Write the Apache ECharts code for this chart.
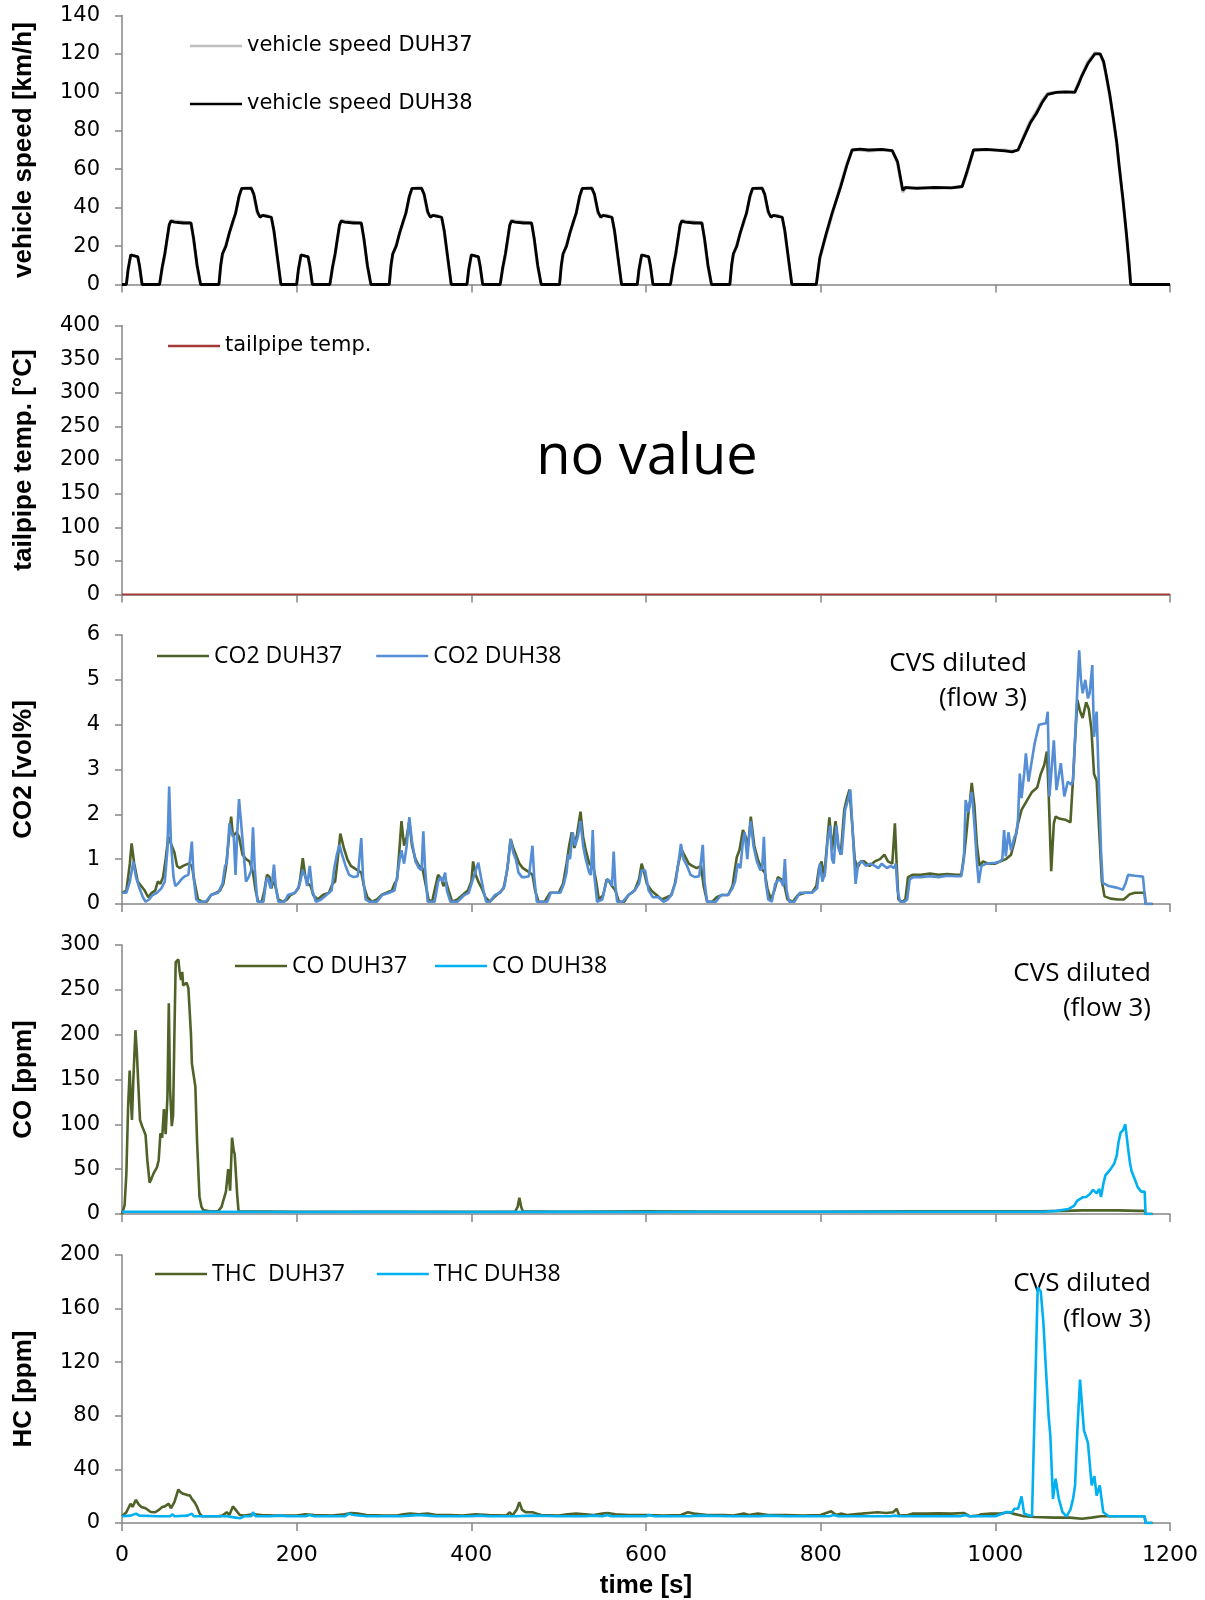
<!DOCTYPE html>
<html>
<head>
<meta charset="utf-8">
<script src="https://cdn.jsdelivr.net/npm/echarts@6.0.0/dist/echarts.min.js"></script>
<style>
    html, body { margin: 0; padding: 0; background: #fff; }
    #chart { width: 1205px; height: 1600px; }
</style>
</head>
<body>
<div id="chart"></div>
<script>
// time axis ticks (s)
var timeTicks = [0, 200, 400, 600, 800, 1000, 1200];

// vehicle speed [km/h], [time, value]
var speedDUH37 = [
    [0,0],[5,0],[7,7],[10,15],[12,15.5],[15,15],[18,14],[20,9],[23,0],[43,0],[46,8],[49,15],[51,21],[54,30],[56,33.5],[60,33],[70,32.5],[79,32],[82,23],[86,9],[90,0],
    [111,0],[113,9],[115,15],[119,21],[123,27],[127,32],[130,37],[134,45],[137,50],[148,50.5],[151,46],[155,37],[158,35.5],[161,36],[163,37],[166,36],[171,35],[174,27],[178,13],[182,0],
    [200,0],[202,7],[205,15],[207,15.5],[210,15],[213,14],[215,9],[218,0],[238,0],[241,8],[244,15],[246,21],[249,30],[251,33.5],[255,33],[265,32.5],[274,32],[277,23],[281,9],[285,0],
    [306,0],[308,9],[310,15],[314,21],[318,27],[322,32],[325,37],[329,45],[332,50],[343,50.5],[346,46],[350,37],[353,35.5],[356,36],[358,37],[361,36],[366,35],[369,27],[373,13],[377,0],
    [395,0],[397,7],[400,15],[402,15.5],[405,15],[408,14],[410,9],[413,0],[433,0],[436,8],[439,15],[441,21],[444,30],[446,33.5],[450,33],[460,32.5],[469,32],[472,23],[476,9],[480,0],
    [501,0],[503,9],[505,15],[509,21],[513,27],[517,32],[520,37],[524,45],[527,50],[538,50.5],[541,46],[545,37],[548,35.5],[551,36],[553,37],[556,36],[561,35],[564,27],[568,13],[572,0],
    [590,0],[592,7],[595,15],[597,15.5],[600,15],[603,14],[605,9],[608,0],[628,0],[631,8],[634,15],[636,21],[639,30],[641,33.5],[645,33],[655,32.5],[664,32],[667,23],[671,9],[675,0],
    [696,0],[698,9],[700,15],[704,21],[708,27],[712,32],[715,37],[719,45],[722,50],[733,50.5],[736,46],[740,37],[743,35.5],[746,36],[748,37],[751,36],[756,35],[759,27],[763,13],[767,0],
    [795,0],[799,13],[806,25],[813,36],[818,44],[823,52],[830,63],[836,70],[845,70],[855,69.5],[870,70],[882,69.5],[888,63],[894,48],[897,50],[910,50.5],[930,50],[950,50.5],[962,51],[967,57],[975,70],
    [990,70],[1011,70],[1019,69.5],[1026,70],[1033,78],[1040,85],[1047,90],[1054,96],[1060,99.5],[1070,100],[1080,100],[1091,100.5],[1095,105],[1099,109],[1106,116],[1114,120.5],[1120,120],
    [1124,115],[1127,108],[1131,98],[1135,86],[1139,73],[1142,60],[1146,44],[1150,26],[1153,11],[1155,0],[1200,0]
];
var speedDUH38 = [
    [0,0],[5,0],[7,8],[10,15.5],[12,16],[15,14.8],[18,14.5],[20,10],[23,0],[43,0],[46,9],[49,16],[51,22],[54,31],[56,33],[60,32.5],[70,32],[79,32],[82,24],[86,10],[90,0],
    [111,0],[113,10],[115,16],[119,20],[123,27],[127,33],[130,37],[134,46],[137,50],[148,50],[151,47],[155,38],[158,35],[161,36],[163,36.5],[166,35.5],[171,35],[174,28],[178,14],[182,0],
    [200,0],[202,8],[205,15.5],[207,16],[210,14.8],[213,14.5],[215,10],[218,0],[238,0],[241,9],[244,16],[246,22],[249,31],[251,33],[255,32.5],[265,32],[274,32],[277,24],[281,10],[285,0],
    [306,0],[308,10],[310,16],[314,20],[318,27],[322,33],[325,37],[329,46],[332,50],[343,50],[346,47],[350,38],[353,35],[356,36],[358,36.5],[361,35.5],[366,35],[369,28],[373,14],[377,0],
    [395,0],[397,8],[400,15.5],[402,16],[405,14.8],[408,14.5],[410,10],[413,0],[433,0],[436,9],[439,16],[441,22],[444,31],[446,33],[450,32.5],[460,32],[469,32],[472,24],[476,10],[480,0],
    [501,0],[503,10],[505,16],[509,20],[513,27],[517,33],[520,37],[524,46],[527,50],[538,50],[541,47],[545,38],[548,35],[551,36],[553,36.5],[556,35.5],[561,35],[564,28],[568,14],[572,0],
    [590,0],[592,8],[595,15.5],[597,16],[600,14.8],[603,14.5],[605,10],[608,0],[628,0],[631,9],[634,16],[636,22],[639,31],[641,33],[645,32.5],[655,32],[664,32],[667,24],[671,10],[675,0],
    [696,0],[698,10],[700,16],[704,20],[708,27],[712,33],[715,37],[719,46],[722,50],[733,50],[736,47],[740,38],[743,35],[746,36],[748,36.5],[751,35.5],[756,35],[759,28],[763,14],[767,0],
    [795,0],[799,14],[806,26],[813,37],[818,44],[823,51],[830,62],[836,70],[845,70.5],[855,70],[870,70.3],[882,69.7],[888,64],[894,49],[897,50.5],[910,50],[930,50.5],[950,50.3],[962,51],[967,58],[975,70],
    [990,70.3],[1011,69.5],[1019,69],[1026,70],[1033,77],[1040,84],[1047,89],[1054,95],[1060,99],[1070,100],[1080,100.3],[1091,100],[1095,104],[1099,108.5],[1106,115],[1114,120],[1120,120],
    [1124,116],[1127,109],[1131,99],[1135,87],[1139,74],[1142,61],[1146,45],[1150,27],[1153,12],[1155,0],[1200,0]
];

// tailpipe temperature [°C] (no value recorded)
var tailpipeTemp = [[0,0],[1200,0]];

// CO2 [vol%]
var co2DUH37 = [
    [0,0.25],[5,0.3],[9,0.9],[11,1.35],[14,0.9],[18,0.5],[22,0.4],[26,0.3],[30,0.15],[34,0.25],[38,0.3],[41,0.5],[44,0.45],[47,0.6],[50,1.0],[53,1.5],[57,1.3],[60,1.15],[63,0.85],[66,0.8],[70,0.85],[76,0.9],[80,0.85],[83,0.5],[87,0.1],[92,0.05],[97,0.05],
    [102,0.2],[108,0.25],[112,0.3],[116,0.45],[119,0.8],[122,1.4],[125,1.95],[127,1.5],[129,1.55],[131,1.6],[134,1.5],[138,1.1],[142,1.0],[146,0.95],[150,0.7],[153,0.3],[156,0.05],[160,0.05],[163,0.3],[166,0.65],[169,0.6],[171,0.35],[173,0.5],[175,0.45],[179,0.1],[184,0.05],[189,0.1],[193,0.2],[198,0.25],
    [202,0.35],[204,0.55],[207,1.02],[210,0.6],[213,0.45],[216,0.4],[219,0.2],[224,0.1],[230,0.2],[237,0.25],[241,0.45],[244,0.5],[247,1.0],[250,1.57],[254,1.25],[258,1.0],[262,0.85],[266,0.8],[270,0.75],[274,0.7],[277,0.4],[281,0.15],[286,0.05],[292,0.1],[297,0.2],
    [303,0.25],[309,0.3],[312,0.45],[315,0.55],[318,1.3],[320,1.85],[323,1.3],[326,1.5],[329,1.85],[332,1.3],[336,1.0],[340,0.85],[344,0.8],[347,0.5],[351,0.1],[355,0.05],[359,0.4],[362,0.65],[366,0.55],[368,0.4],[371,0.5],[374,0.3],[378,0.05],[384,0.1],[390,0.2],[396,0.3],
    [400,0.5],[402,0.95],[405,0.65],[408,0.5],[412,0.35],[416,0.15],[421,0.05],[426,0.15],[432,0.25],[437,0.35],[441,0.75],[445,1.45],[448,1.25],[451,1.1],[455,0.9],[459,0.8],[463,0.75],[467,0.7],[470,0.65],[473,0.3],[477,0.05],[484,0.05],[490,0.25],
    [500,0.25],[505,0.45],[509,0.9],[512,1.3],[515,1.6],[518,1.25],[521,1.55],[525,2.06],[528,1.5],[531,1.2],[535,0.9],[540,0.8],[543,0.5],[546,0.1],[551,0.2],[555,0.55],[558,0.5],[561,0.4],[565,0.3],[569,0.05],[575,0.05],[580,0.2],[587,0.3],[592,0.55],[595,0.9],[598,0.7],
    [601,0.45],[606,0.3],[612,0.2],[618,0.1],[624,0.15],[629,0.2],[633,0.45],[637,0.9],[641,1.2],[645,1.05],[649,0.9],[653,0.85],[658,0.8],[663,0.85],[666,0.4],[670,0.05],[676,0.05],[681,0.15],[687,0.2],[694,0.2],[699,0.4],
    [702,0.8],[704,1.05],[707,1.2],[711,1.65],[714,1.5],[717,1.3],[720,1.95],[724,1.3],[728,1.0],[732,0.8],[736,0.7],[739,0.35],[743,0.1],[747,0.3],[751,0.6],[755,0.55],[758,0.45],[762,0.1],[768,0.05],[774,0.2],[782,0.25],[790,0.25],[795,0.4],[798,0.8],
    [801,0.95],[804,0.6],[808,1.5],[810,1.93],[813,1.2],[817,1.85],[820,1.3],[823,1.1],[827,2.1],[830,2.35],[833,2.55],[836,1.8],[839,1.0],[842,0.8],[846,0.95],[850,0.95],[856,0.85],[862,0.95],[868,1.0],[873,1.1],[877,0.95],[882,0.9],[885,1.8],[887,0.9],[889,0.1],[893,0.05],[897,0.1],
    [900,0.6],[905,0.65],[915,0.65],[925,0.68],[935,0.65],[945,0.67],[955,0.65],[961,0.65],[965,1.2],[969,2.0],[971,2.3],[973,2.7],[976,2.2],[979,1.3],[982,0.85],[986,0.95],[992,0.9],
    [1000,0.9],[1006,0.95],[1012,1.0],[1018,1.1],[1022,1.4],[1026,1.8],[1030,2.1],[1036,2.3],[1042,2.5],[1048,2.6],[1052,2.9],[1056,3.1],[1059,3.4],[1061,2.5],[1064,0.73],[1067,1.8],[1069,1.95],[1074,1.9],[1080,1.88],[1086,1.82],[1089,2.8],[1092,3.9],[1094,4.55],[1097,4.3],
    [1100,4.15],[1104,4.5],[1107,4.35],[1110,3.9],[1113,2.9],[1116,2.75],[1119,1.6],[1122,0.5],[1125,0.17],[1132,0.12],[1140,0.1],[1147,0.1],[1150,0.15],[1154,0.22],[1160,0.25],[1168,0.25],[1171,0.25],[1172,0],[1180,0]
];
var co2DUH38 = [
    [0,0.25],[5,0.25],[9,0.5],[13,0.95],[16,0.6],[20,0.35],[24,0.15],[27,0.05],[31,0.1],[35,0.2],[40,0.25],[45,0.35],[49,0.5],[52,1.2],[54,2.62],[56,1.4],[59,0.6],[61,0.4],[64,0.45],[68,0.55],[72,0.62],[76,0.65],[78,0.65],[80,1.39],[82,0.6],[85,0.1],[88,0.05],[96,0.05],
    [102,0.2],[110,0.25],[115,0.45],[118,0.85],[120,0.91],[123,1.8],[125,1.6],[128,1.5],[130,0.65],[132,1.6],[134,2.34],[136,1.9],[139,1.2],[142,0.5],[145,0.6],[148,0.75],[150,1.71],[152,0.8],[155,0.05],[162,0.05],[165,0.5],[167,0.6],[170,0.35],[172,0.5],[174,0.88],[176,0.4],[179,0.05],[186,0.05],[190,0.2],[198,0.25],
    [203,0.4],[207,0.76],[210,0.6],[212,0.4],[215,0.85],[218,0.3],[222,0.05],[228,0.1],[234,0.2],[240,0.3],[243,0.8],[246,1.1],[249,1.32],[252,1.1],[256,0.85],[260,0.65],[265,0.6],[270,0.62],[272,0.65],[274,1.47],[276,0.6],[279,0.1],[283,0.05],[292,0.05],[298,0.2],
    [306,0.25],[312,0.3],[315,0.6],[318,1.0],[320,1.2],[323,0.9],[326,1.3],[329,1.94],[332,1.4],[336,0.95],[340,0.8],[343,0.75],[345,1.62],[347,0.8],[350,0.05],[358,0.05],[362,0.5],[365,0.6],[367,0.5],[370,0.7],[372,0.3],[376,0.05],[384,0.05],[392,0.2],[397,0.25],
    [401,0.5],[405,0.75],[408,0.92],[411,0.6],[414,0.3],[417,0.05],[421,0.05],[427,0.2],[433,0.25],[438,0.4],[442,0.9],[445,1.45],[448,1.15],[451,1.0],[454,0.7],[458,0.6],[462,0.6],[466,0.62],[468,0.65],[470,1.3],[472,0.6],[475,0.05],[487,0.05],[491,0.25],
    [502,0.25],[506,0.45],[509,0.7],[511,1.1],[513,1.0],[516,1.6],[519,1.3],[522,1.5],[525,1.85],[528,1.3],[531,1.0],[535,0.7],[537,0.65],[539,1.65],[541,0.6],[544,0.05],[550,0.1],[554,0.45],[556,0.55],[559,0.5],[561,0.4],[563,1.17],[565,0.4],[567,0.05],[573,0.05],[580,0.2],[587,0.3],[592,0.45],[595,0.75],[599,0.75],
    [603,0.3],[608,0.15],[614,0.15],[620,0.05],[625,0.1],[629,0.2],[634,0.5],[637,0.9],[640,1.34],[643,1.0],[647,0.85],[651,0.65],[656,0.6],[661,0.62],[663,0.65],[665,1.32],[667,0.5],[670,0.05],[680,0.05],[686,0.2],[694,0.2],[699,0.35],
    [702,0.5],[705,0.9],[708,0.8],[711,1.4],[713,1.6],[716,1.0],[718,1.5],[720,1.85],[723,1.3],[727,0.95],[731,0.75],[733,0.8],[735,1.5],[737,0.5],[740,0.1],[744,0.05],[748,0.45],[752,0.55],[755,0.5],[757,0.4],[759,1.0],[761,0.3],[764,0.05],[770,0.05],[776,0.25],[790,0.25],[796,0.35],[799,0.9],
    [802,0.5],[805,0.7],[808,1.43],[811,1.75],[813,1.0],[815,0.9],[818,1.75],[821,1.2],[824,1.1],[828,2.1],[831,2.3],[834,2.55],[837,1.5],[840,0.45],[843,0.9],[847,0.95],[852,0.85],[857,0.9],[862,0.85],[866,0.8],[870,0.9],[873,0.85],[876,0.8],[880,0.85],[884,0.8],[886,0.9],[888,0.3],[891,0.05],[896,0.05],[899,0.1],
    [902,0.55],[906,0.6],[915,0.6],[925,0.62],[935,0.6],[945,0.63],[955,0.62],[961,0.62],[964,1.0],[966,2.32],[969,2.05],[973,2.5],[976,1.8],[979,0.9],[981,0.47],[984,0.85],[990,0.9],
    [1000,0.92],[1005,0.95],[1008,1.0],[1010,1.65],[1012,1.06],[1015,1.6],[1018,1.2],[1022,1.5],[1024,1.55],[1026,1.9],[1028,2.91],[1030,2.36],[1033,2.9],[1035,3.36],[1038,2.73],[1041,3.1],[1045,3.58],[1050,4.0],[1055,4.02],[1058,4.03],[1060,4.29],[1062,2.4],[1067,3.65],[1070,2.54],[1075,3.14],[1079,2.4],[1083,2.73],[1087,2.66],[1089,2.77],[1092,4.0],[1096,5.66],[1098,5.0],
    [1100,4.7],[1103,5.0],[1106,4.59],[1108,4.7],[1111,5.33],[1113,3.73],[1116,4.29],[1119,2.4],[1121,1.2],[1123,0.47],[1130,0.4],[1140,0.36],[1146,0.32],[1149,0.45],[1152,0.65],[1160,0.63],[1169,0.61],[1171,0.6],[1172,0],[1180,0]
];

// CO [ppm]
var coDUH37 = [
    [0,0],[3,10],[5,45],[7,120],[8.8,160],[10,130],[11.4,105],[13,150],[15.4,205],[17,180],[18.4,150],[20.6,105],[23,98],[25,96],[27,88],[29,60],[31.6,35],[34,40],[36,45],[40,52],[42,60],[44,90],[46,85],[48,117],[50,89],
    [52,130],[53.6,235],[55,140],[57,98],[58.5,110],[60,200],[61.5,281],[63,280],[64.5,284],[66,270],[67.6,261],[69,270],[70,255],[72,253],[74,258],[76,252],[77.7,250],[79,200],[80,168],[82,155],[84,142],[86,80],[88.7,19],[91,8],[93,4.5],
    [100,3],[110,3],[114,8],[116,15],[119,25],[121.6,50],[123,35],[123.8,26],[126,85],[128,70],[129,67],[130.4,65],[132,20],[133.5,3],
    [200,2.5],[300,2.5],[400,2.5],[450,2.5],[453,8],[455,18],[457,8],[459,3],[500,2.5],[600,3],[700,2.5],[800,2.5],[900,3],[1000,3],[1050,3],[1080,3.5],[1100,4],[1140,4],[1165,3.5],[1171,3.5],[1172,0],[1180,0]
];
var coDUH38 = [
    [0,2.5],[100,2.5],[200,2.3],[300,2.5],[400,2.3],[500,2.5],[600,2.3],[700,2.5],[800,2.5],[900,2.5],[1000,2.5],[1055,2.5],[1070,3.5],[1084,5.6],[1090,9],[1094,15],[1096,17],[1100,18.6],[1104,19],[1108,22],[1112,27],[1116,23],[1119,28],[1121,19],
    [1124,35],[1126,43],[1132,50],[1136,56],[1139,65],[1141,80],[1143.5,91],[1146,93],[1148.8,100],[1150,98],[1152.3,71],[1154,58],[1156,48],[1160,38],[1163,30],[1167,25],[1171,25],[1172,0],[1180,0]
];

// THC [ppm]
var thcDUH37 = [
    [0,5],[5,8],[9.7,14.4],[12,12],[16,17.3],[19,14],[22,12],[27,11],[33,8.2],[38,8],[42.6,10],[46,12],[49,12.4],[51,11],[53.6,14.4],[56,11],[60,15.6],[64.5,25],[67,23],[70,21.8],[74,21],[77.7,20.5],[80,18],[83,15.6],[86,12],[89,7],[92,5],
    [100,5],[110,5],[115,5.5],[120,8],[123,6],[127,12.4],[130,10],[134.8,6],[140,5.5],[150,6.5],[160,6],[175,5.5],[190,5.5],[200,5.5],[210,6.5],[220,6],[240,5.5],[255,6.5],[262,7.5],[270,7],[280,6],
    [300,5.5],[315,5.5],[322,6.5],[330,7],[340,6.5],[350,7],[360,6],[375,6],[390,5.5],[405,6.5],[420,6],[440,5.5],[444,8],[447,5.5],[452,10],[455,15.6],[458,10],[462,8],[470,8],[475,7],[480,6],
    [500,5.5],[510,6.5],[520,7],[530,6.5],[540,6],[550,7],[556,7.5],[565,6.5],[580,6],[600,6],[620,5.5],[640,6],[648,8],[655,7],[670,6],[690,6],[700,5.5],[712,7],[718,6],[728,7],[740,6],[760,6],[780,5.5],
    [800,6],[812,8.7],[818,6],[823,7],[830,6],[847,7],[855,7.5],[865,8],[875,7.5],[883,8],[887,10.6],[890,5.5],[900,6],[905,7],[920,7],[935,7.2],[950,7],[964,7.5],[966,8],[971,5],[980,5.5],[984,6.5],[995,7],
    [1005,7],[1015,8],[1020,7],[1033,5],[1045,4.5],[1068,4],[1085,4],[1099,3.2],[1110,4],[1121,5],[1140,5],[1160,5],[1171,5],[1172,0],[1180,0]
];
var thcDUH38 = [
    [0,5],[10,5.5],[16,7],[20,5.5],[40,5],[55,5],[58,6.5],[60,5],[75,5.5],[80,7],[82,5],[100,5],[120,5],[130,4],[135,3.5],[140,5],[148,5],[150,8],[153,5],[170,5],[180,5.5],[190,5],
    [210,5],[215,6],[220,5],[255,5],[260,7],[265,6],[280,5],[320,5],[330,5.5],[340,6],[350,5.5],[360,5],[400,5],[410,5.5],[420,5],[450,5],[470,5.5],[500,5],[530,5],[540,5.5],[550,5],[556,6],[560,5],
    [600,5],[603,6],[610,5],[650,5],[660,5.5],[700,5],[730,5],[740,5.5],[760,5],[810,5],[815,6],[820,5],[880,5],[885,5.5],[890,5],[960,5],[966,6],[970,5],
    [1000,5],[1013,8.2],[1019,8],[1022,10.6],[1026,10.6],[1030,19.8],[1033,7],[1042,5],[1044,5],[1048.5,176],[1052,172.8],[1055,150],[1057.3,122],[1061,80],[1063,65],[1066,18],[1069,33],[1072.7,18],[1077,8],[1081.6,5],
    [1086,10],[1089,18],[1091.3,28],[1094,70],[1097,107],[1098.5,108],[1101.5,69],[1106,60],[1110.3,28],[1113.4,35],[1116,20.5],[1119.6,28],[1123.6,8],[1130,5],[1150,5],[1171,5],[1172,0],[1180,0]
];

var gridTops = [15.5, 325.5, 635, 945, 1255];
var axisGrey = '#868686';
var tickFont = 'DejaVu Sans';
var titleFont = 'Liberation Sans';
var calFont = 'Open Sans';

function xAxisFor(i) {
    var last = i === 4;
    return {
        type: 'value', gridIndex: i,
        min: timeTicks[0], max: timeTicks[timeTicks.length - 1], interval: timeTicks[1] - timeTicks[0],
        axisLine: { show: true, onZero: false, lineStyle: { color: axisGrey, width: 1.5 } },
        axisTick: { show: true, length: 8, lineStyle: { color: axisGrey, width: 1.5 } },
        splitLine: { show: false },
        axisLabel: {
            show: last, color: '#000', fontFamily: tickFont, fontSize: 22, margin: 21,
            formatter: function (v) { return String(v); }
        },
        name: last ? 'time [s]' : '',
        nameLocation: 'middle',
        nameGap: 50,
        nameTextStyle: { color: '#000', fontFamily: titleFont, fontWeight: 'bold', fontSize: 26 }
    };
}

function yAxisFor(i, max, interval, name) {
    return {
        type: 'value', gridIndex: i, min: 0, max: max, interval: interval,
        axisLine: { show: true, lineStyle: { color: axisGrey, width: 1.5 } },
        axisTick: { show: true, length: 7, lineStyle: { color: axisGrey, width: 1.5 } },
        splitLine: { show: false },
        axisLabel: { color: '#000', fontFamily: tickFont, fontSize: 21, margin: 22 },
        name: name,
        nameLocation: 'middle',
        nameGap: 85,
        nameTextStyle: { color: '#000', fontFamily: titleFont, fontWeight: 'bold', fontSize: 26 }
    };
}

function lineSeries(name, i, data, color, width, z) {
    return {
        name: name, type: 'line', xAxisIndex: i, yAxisIndex: i,
        data: data, symbol: 'none', smooth: false, color: color, z: z || 2,
        lineStyle: { color: color, width: width },
        emphasis: { disabled: true }
    };
}

function legendFor(names, left, top, font, size, gap, orient) {
    return {
        data: names, left: left, top: top, orient: orient || 'horizontal',
        icon: 'rect', itemWidth: 52, itemHeight: 2.5, itemGap: gap,
        itemStyle: { borderWidth: 0 },
        padding: 0,
        textStyle: { color: '#000', fontFamily: font, fontSize: size, lineHeight: 24 }
    };
}

var chart = echarts.init(document.getElementById('chart'));

chart.setOption({
    animation: false,
    backgroundColor: '#fff',
    grid: gridTops.map(function (t) {
        return { left: 122, width: 1048, top: t, height: 269, containLabel: false };
    }),
    xAxis: [0, 1, 2, 3, 4].map(xAxisFor),
    yAxis: [
        yAxisFor(0, 140, 20, 'vehicle speed [km/h]'),
        yAxisFor(1, 400, 50, 'tailpipe temp. [°C]'),
        yAxisFor(2, 6, 1, 'CO2 [vol%]'),
        yAxisFor(3, 300, 50, 'CO [ppm]'),
        yAxisFor(4, 200, 40, 'HC [ppm]')
    ],
    legend: [
        legendFor(['vehicle speed DUH37', 'vehicle speed DUH38'], 190, 34, tickFont, 21, 34, 'vertical'),
        legendFor(['tailpipe temp.'], 168, 334, tickFont, 21, 30),
        legendFor(['CO2 DUH37', 'CO2 DUH38'], 157, 644, calFont, 23, 34),
        legendFor(['CO DUH37', 'CO DUH38'], 235, 954, calFont, 23, 28),
        legendFor(['THC  DUH37', 'THC DUH38'], 155, 1262, calFont, 23, 32)
    ],
    graphic: [
        {
            type: 'text', x: 647, y: 458,
            style: { text: 'no value', fill: '#000', font: '56px "Open Sans"', align: 'center', verticalAlign: 'middle' }
        },
        {
            type: 'text', x: 1027, y: 681, z: 1,
            style: { text: 'CVS diluted\n(flow 3)', fill: '#000', font: '26px "Open Sans"', align: 'right', verticalAlign: 'middle', lineHeight: 35 }
        },
        {
            type: 'text', x: 1151, y: 991, z: 1,
            style: { text: 'CVS diluted\n(flow 3)', fill: '#000', font: '26px "Open Sans"', align: 'right', verticalAlign: 'middle', lineHeight: 35 }
        },
        {
            type: 'text', x: 1151, y: 1302, z: 1,
            style: { text: 'CVS diluted\n(flow 3)', fill: '#000', font: '26px "Open Sans"', align: 'right', verticalAlign: 'middle', lineHeight: 36 }
        }
    ],
    series: [
        lineSeries('vehicle speed DUH37', 0, speedDUH37, '#BFBFBF', 3),
        lineSeries('vehicle speed DUH38', 0, speedDUH38, '#000000', 2.8, 3),
        lineSeries('tailpipe temp.', 1, tailpipeTemp, '#A33A38', 2.2),
        lineSeries('CO2 DUH37', 2, co2DUH37, '#4F6228', 2.6),
        lineSeries('CO2 DUH38', 2, co2DUH38, '#558ED5', 2.6, 3),
        lineSeries('CO DUH37', 3, coDUH37, '#4F6228', 2.6),
        lineSeries('CO DUH38', 3, coDUH38, '#00B0F0', 2.6, 3),
        lineSeries('THC  DUH37', 4, thcDUH37, '#4F6228', 2.6),
        lineSeries('THC DUH38', 4, thcDUH38, '#00B0F0', 2.6, 3)
    ]
});
</script>
</body>
</html>
